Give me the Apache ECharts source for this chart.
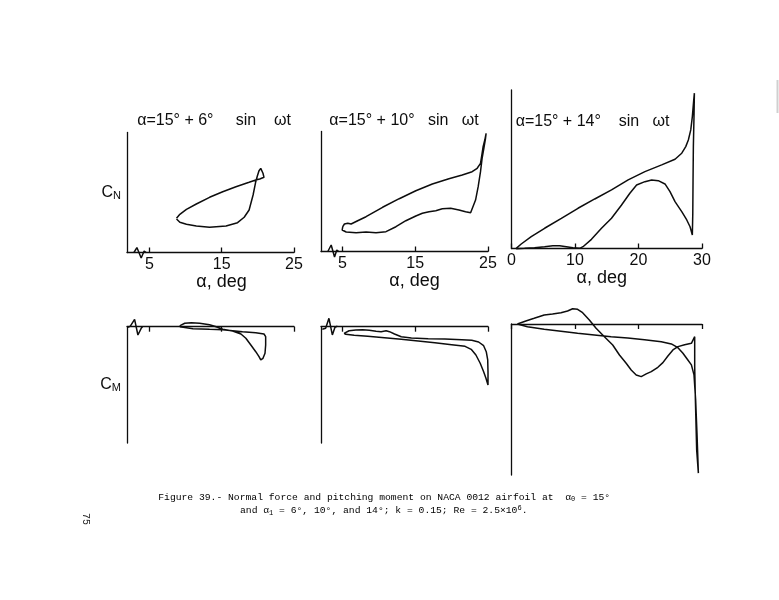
<!DOCTYPE html>
<html><head><meta charset="utf-8">
<script src="https://cdn.jsdelivr.net/npm/echarts@6/dist/echarts.min.js"></script>
<style>html,body{margin:0;padding:0;background:#fff}#c{width:779px;height:600px}</style>
</head><body><div id="c"></div>
<script>
// ---------- text ----------
const panelTitles = ['α=15° + 6°     sin    ωt', 'α=15° + 10°   sin   ωt', 'α=15° + 14°    sin   ωt'];
const xName = 'α, deg';
const xTicksA = [5, 15, 25];
const xTicksB = [0, 10, 20, 30];

// ---------- C_N, alpha1 = 6 deg ----------
const cn1Alpha = [8.75,9.21,10.12,11.49,13.32,15.14,16.97,18.79,19.71,20.26,20.85,20.71,20.40,20.16,19.93,19.71,19.34,18.79,18.11,17.19,15.60,13.32,11.49,10.12,9.21,8.75];
const cn1Val   = [0.570,0.637,0.720,0.808,0.920,1.013,1.097,1.170,1.208,1.225,1.253,1.320,1.403,1.363,1.275,1.180,0.958,0.708,0.587,0.497,0.442,0.420,0.442,0.470,0.503,0.558];

// ---------- C_N, alpha1 = 10 deg ----------
const cn2Alpha = [5.04,5.27,5.73,6.19,7.09,8.24,10.51,12.80,15.08,17.35,19.63,21.46,22.82,23.51,23.97,24.19,24.33,24.56,24.74,24.66,24.43,24.19,23.97,23.65,23.29,22.61,21.92,21.01,19.87,18.72,17.82,16.90,15.98,15.08,13.71,12.35,10.98,9.61,8.24,6.87,5.51,4.96,5.04];
const cn2Val   = [0.413,0.458,0.470,0.458,0.513,0.580,0.737,0.880,1.013,1.125,1.213,1.275,1.330,1.387,1.470,1.637,1.747,1.858,1.970,1.887,1.720,1.553,1.330,1.080,0.858,0.647,0.663,0.692,0.720,0.713,0.680,0.663,0.637,0.592,0.513,0.413,0.330,0.313,0.325,0.313,0.325,0.358,0.413];

// ---------- C_N, alpha1 = 14 deg ----------
const cn3Alpha = [0.74,1.53,3.11,5.21,7.85,10.47,13.11,15.75,18.37,21.01,23.65,25.75,26.81,27.44,27.85,28.23,28.48,28.70,28.80,28.75,28.64,28.59,28.55,28.48,28.12,27.60,26.81,25.75,24.96,24.17,23.11,22.07,21.01,19.70,18.64,17.33,15.75,14.17,12.59,11.26,10.74,9.68,8.64,7.58,6.52,5.21,3.63,2.05,0.74];
const cn3Val   = [0.003,0.075,0.197,0.337,0.503,0.670,0.825,0.975,1.142,1.280,1.392,1.487,1.587,1.697,1.808,1.975,2.197,2.475,2.587,2.253,1.697,1.142,0.587,0.225,0.363,0.475,0.613,0.780,0.947,1.075,1.130,1.142,1.113,1.058,0.920,0.725,0.503,0.337,0.153,0.030,0.003,0.013,0.030,0.047,0.047,0.030,0.013,0.003,-0.003];

// ---------- C_M, alpha1 = 6 deg ----------
const cm1Alpha = [9.21,11.03,13.32,15.14,17.88,19.71,20.85,21.08,21.08,20.99,20.71,20.40,20.16,19.71,19.03,18.34,17.66,16.51,15.14,14.23,13.32,11.95,10.81,9.89,9.30,9.21];
const cm1Val   = [0,-0.033,-0.043,-0.050,-0.083,-0.100,-0.122,-0.167,-0.305,-0.443,-0.527,-0.555,-0.500,-0.417,-0.305,-0.193,-0.122,-0.072,-0.043,0,0.033,0.057,0.067,0.057,0.023,0];

// ---------- C_M, alpha1 = 10 deg ----------
const cm2Alpha = [5.22,5.46,5.91,6.84,7.77,8.69,9.62,10.31,11.00,11.46,12.15,13.08,14.47,16.78,19.08,21.39,22.77,23.71,24.40,24.76,24.96,25.0,25.0,24.72,24.40,23.93,23.34,22.69,21.85,20.01,17.70,15.40,13.08,10.77,8.47,6.61,5.46,5.22];
const cm2Val   = [-0.110,-0.083,-0.067,-0.055,-0.050,-0.060,-0.077,-0.083,-0.067,-0.083,-0.122,-0.167,-0.188,-0.200,-0.205,-0.217,-0.227,-0.255,-0.317,-0.417,-0.555,-0.750,-0.972,-0.860,-0.750,-0.610,-0.472,-0.377,-0.327,-0.300,-0.267,-0.238,-0.210,-0.183,-0.160,-0.143,-0.127,-0.110];

// ---------- C_M, alpha1 = 14 deg ----------
const cm3Alpha = [0.93,2.51,5.15,7.79,10.41,13.05,15.69,18.31,20.95,23.59,25.17,26.21,27.00,27.69,28.33,28.74,29.00,29.21,29.43,29.16,28.96,28.85,28.85,28.85,28.33,27.27,26.21,25.42,24.63,23.84,23.05,22.01,21.22,20.43,19.64,18.85,18.06,17.00,15.94,14.63,13.32,12.26,11.20,10.41,9.62,8.83,7.79,6.46,5.15,3.57,2.26,0.93];
const cm3Val   = [0,-0.045,-0.088,-0.122,-0.155,-0.183,-0.212,-0.233,-0.262,-0.295,-0.333,-0.395,-0.488,-0.588,-0.683,-0.850,-1.267,-1.822,-2.488,-2.100,-1.267,-0.712,-0.378,-0.212,-0.322,-0.345,-0.378,-0.433,-0.533,-0.645,-0.722,-0.795,-0.833,-0.878,-0.850,-0.767,-0.655,-0.517,-0.350,-0.212,-0.072,0.067,0.188,0.245,0.255,0.217,0.188,0.167,0.150,0.095,0.050,0];

// ---------- axis-break marks ----------
const brk1Alpha = [2.86,3.27,3.86,4.27,4.55];
const brk1Val   = [0,0.083,-0.092,0.025,0];
const brk2Alpha = [2.99,3.45,3.91,4.22,4.49];
const brk2Val   = [0,0.108,-0.092,0.025,0];
const brk4Alpha = [2.04,2.36,2.95,3.41,3.86,4.04];
const brk4Val   = [-0.01,0.01,0.123,-0.138,-0.027,0];
const brk5Alpha = [2.23,2.69,3.14,3.61,3.97,4.31];
const brk5Val   = [-0.043,-0.027,0.14,-0.138,-0.01,0.01];

const captionLine1 = ['Figure 39.- Normal force and pitching moment on NACA 0012 airfoil at  α', '0', ' = 15°'];
const captionLine2 = ['and α', '1', ' = 6°, 10°, and 14°; k = 0.15; Re = 2.5×10', '6', '.'];
const pageNumber = '75';

// ---------- build ----------
const INK = '#0d0d0d';
const FONT = 'Liberation Sans';
const MONO = 'Liberation Mono';
const zip = (a, b) => a.map((v, i) => [v, b[i]]);

const grids = [
  {left:127, top:132.5, width:167, height:120},
  {left:321, top:131.5, width:167, height:120},
  {left:511.5, top:90, width:190.5, height:158.5},
  {left:127, top:326.7, width:167, height:116.3},
  {left:321, top:326.7, width:167, height:116.3},
  {left:511.5, top:324, width:190.5, height:151}
];
const xr = [[1.9,25,xTicksA,11],[2.05,25,xTicksA,10],[0,30,xTicksB,-5]];
const xAxes = [];
for (let i = 0; i < 6; i++) {
  const c = xr[i % 3];
  const top = i < 3;
  xAxes.push({
    type:'value', gridIndex:i, min:c[0], max:c[1],
    position: top ? 'bottom' : 'top',
    axisLine:{show:true, onZero:false, lineStyle:{color:INK, width:1.3}},
    axisTick:{show:true, inside:true, length:5, customValues:c[2], lineStyle:{color:INK, width:1.3}},
    axisLabel:{show:top, customValues:c[2], margin:4, color:INK, fontFamily:FONT, fontSize:16},
    splitLine:{show:false},
    name: top ? xName : '', nameLocation:'middle', nameGap:21,
    nameTextStyle:{color:INK, fontFamily:FONT, fontSize:18, padding: c[3] > 0 ? [0,0,0,2*c[3]] : [0,-2*c[3],0,0]}
  });
}
const yr = [[0,2],[0,2],[0,2.64],[-1.94,0],[-1.94,0],[-2.52,0]];
const yAxes = yr.map((r, i) => ({
  type:'value', gridIndex:i, min:r[0], max:r[1],
  axisLine:{show:true, onZero:false, lineStyle:{color:INK, width:1.3}},
  axisTick:{show:false}, axisLabel:{show:false}, splitLine:{show:false},
  name: i === 0 ? '{c|C}{s|N}' : (i === 3 ? '{c|C}{s|M}' : ''),
  nameLocation:'middle', nameRotate:0, nameGap:6,
  nameTextStyle:{rich:{
    c:{fontFamily:FONT, fontSize:16, color:INK},
    s:{fontFamily:FONT, fontSize:11, color:INK, padding:[7,0,0,0]}
  }}
}));

const curves = [
  [0, zip(cn1Alpha, cn1Val)], [1, zip(cn2Alpha, cn2Val)], [2, zip(cn3Alpha, cn3Val)],
  [3, zip(cm1Alpha, cm1Val)], [4, zip(cm2Alpha, cm2Val)], [5, zip(cm3Alpha, cm3Val)],
  [0, zip(brk1Alpha, brk1Val)], [1, zip(brk2Alpha, brk2Val)],
  [3, zip(brk4Alpha, brk4Val)], [4, zip(brk5Alpha, brk5Val)]
];
const series = curves.map(([g, d]) => ({
  type:'line', xAxisIndex:g, yAxisIndex:g, data:d, showSymbol:false, symbol:'none',
  clip:false, smooth:false, silent:true, animation:false,
  lineStyle:{color:INK, width:1.5}
}));

const titleX = [214, 404, 592.5];
const titleY = [120.5, 120.5, 121.5];
const graphics = panelTitles.map((t, i) => ({
  type:'text', x:titleX[i], y:titleY[i], silent:true,
  style:{text:t, fill:INK, font:'16px "' + FONT + '"', textAlign:'center', textVerticalAlign:'middle'}
}));
const capRich = {
  t:{fontFamily:MONO, fontSize:9.7, color:'#000', lineHeight:12},
  s:{fontFamily:MONO, fontSize:7, color:'#000', padding:[5,0,0,0]},
  p:{fontFamily:MONO, fontSize:7, color:'#000', padding:[0,0,5,0]}
};
graphics.push({
  type:'text', x:158.3, y:497, silent:true,
  style:{text:'{t|'+captionLine1[0]+'}{s|'+captionLine1[1]+'}{t|'+captionLine1[2]+'}', rich:capRich, textVerticalAlign:'middle'}
});
graphics.push({
  type:'text', x:240, y:510.5, silent:true,
  style:{text:'{t|'+captionLine2[0]+'}{s|'+captionLine2[1]+'}{t|'+captionLine2[2]+'}{p|'+captionLine2[3]+'}{t|'+captionLine2[4]+'}', rich:capRich, textVerticalAlign:'middle'}
});
graphics.push({
  type:'text', x:86, y:519, rotation:-Math.PI/2, silent:true,
  style:{text:pageNumber, fill:'#222', font:'10px "' + MONO + '"', textAlign:'center', textVerticalAlign:'middle'}
});
graphics.push({
  type:'line', silent:true,
  shape:{x1:777.5, y1:80, x2:777.5, y2:113},
  style:{stroke:'#d0d0d0', lineWidth:2}
});

const chart = echarts.init(document.getElementById('c'), null, {renderer:'canvas'});
chart.setOption({
  backgroundColor:'#ffffff',
  animation:false,
  grid:grids,
  xAxis:xAxes,
  yAxis:yAxes,
  series:series,
  graphic:graphics
});
</script></body></html>
